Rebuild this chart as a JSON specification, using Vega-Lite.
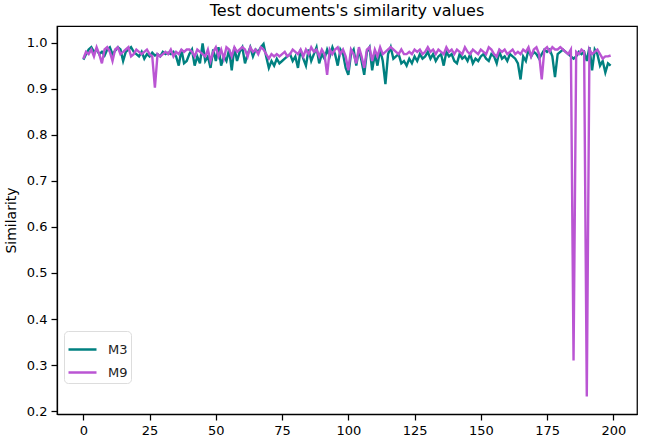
{
  "$schema": "https://vega.github.io/schema/vega-lite/v6.json",
  "width": 580,
  "height": 388,
  "autosize": {"type": "none"},
  "padding": {"left": 57, "top": 26, "right": 12, "bottom": 32},
  "background": "white",
  "title": {"text": "Test documents's similarity values", "font": "DejaVu Sans", "fontSize": 16, "fontWeight": "normal", "color": "black", "offset": 7},
  "config": {
    "view": {"stroke": "black", "strokeWidth": 1.25},
    "axis": {"labelFont": "DejaVu Sans", "titleFont": "DejaVu Sans", "labelFontSize": 13, "titleFontSize": 14, "titleFontWeight": "normal", "labelColor": "black", "titleColor": "black", "domainColor": "black", "tickColor": "black", "tickSize": 6, "tickWidth": 1.25, "domainWidth": 1.25, "grid": false, "labelPadding": 4}
  },
  "data": {"values": [
{"i":0,"M3":0.963,"M9":0.965},{"i":1,"M3":0.975,"M9":0.98},{"i":2,"M3":0.985,"M9":0.975},{"i":3,"M3":0.99,"M9":0.985},{"i":4,"M3":0.98,"M9":0.97},{"i":5,"M3":0.985,"M9":0.99},{"i":6,"M3":0.975,"M9":0.975},{"i":7,"M3":0.98,"M9":0.955},{"i":8,"M3":0.972,"M9":0.985},{"i":9,"M3":0.985,"M9":0.99},
{"i":10,"M3":0.99,"M9":0.98},{"i":11,"M3":0.975,"M9":0.96},{"i":12,"M3":0.982,"M9":0.985},{"i":13,"M3":0.99,"M9":0.99},{"i":14,"M3":0.985,"M9":0.975},{"i":15,"M3":0.96,"M9":0.98},{"i":16,"M3":0.98,"M9":0.985},{"i":17,"M3":0.985,"M9":0.99},{"i":18,"M3":0.99,"M9":0.97},{"i":19,"M3":0.98,"M9":0.975},
{"i":20,"M3":0.975,"M9":0.985},{"i":21,"M3":0.97,"M9":0.98},{"i":22,"M3":0.98,"M9":0.975},{"i":23,"M3":0.965,"M9":0.98},{"i":24,"M3":0.975,"M9":0.985},{"i":25,"M3":0.97,"M9":0.975},{"i":26,"M3":0.978,"M9":0.97},{"i":27,"M3":0.972,"M9":0.902},{"i":28,"M3":0.975,"M9":0.975},{"i":29,"M3":0.97,"M9":0.97},
{"i":30,"M3":0.98,"M9":0.975},{"i":31,"M3":0.975,"M9":0.98},{"i":32,"M3":0.978,"M9":0.975},{"i":33,"M3":0.975,"M9":0.985},{"i":34,"M3":0.98,"M9":0.97},{"i":35,"M3":0.97,"M9":0.98},{"i":36,"M3":0.95,"M9":0.975},{"i":37,"M3":0.985,"M9":0.985},{"i":38,"M3":0.955,"M9":0.98},{"i":39,"M3":0.96,"M9":0.985},
{"i":40,"M3":0.975,"M9":0.985},{"i":41,"M3":0.985,"M9":0.98},{"i":42,"M3":0.95,"M9":0.97},{"i":43,"M3":0.97,"M9":0.985},{"i":44,"M3":0.955,"M9":0.98},{"i":45,"M3":0.998,"M9":0.975},{"i":46,"M3":0.96,"M9":0.97},{"i":47,"M3":0.97,"M9":0.985},{"i":48,"M3":0.945,"M9":0.96},{"i":49,"M3":0.985,"M9":0.98},
{"i":50,"M3":0.96,"M9":0.99},{"i":51,"M3":0.99,"M9":0.97},{"i":52,"M3":0.95,"M9":0.985},{"i":53,"M3":0.97,"M9":0.965},{"i":54,"M3":0.96,"M9":0.99},{"i":55,"M3":0.985,"M9":0.985},{"i":56,"M3":0.94,"M9":0.97},{"i":57,"M3":0.99,"M9":0.99},{"i":58,"M3":0.96,"M9":0.98},{"i":59,"M3":0.98,"M9":0.985},
{"i":60,"M3":0.99,"M9":0.99},{"i":61,"M3":0.955,"M9":0.985},{"i":62,"M3":0.975,"M9":0.97},{"i":63,"M3":0.99,"M9":0.99},{"i":64,"M3":0.97,"M9":0.98},{"i":65,"M3":0.985,"M9":0.985},{"i":66,"M3":0.98,"M9":0.975},{"i":67,"M3":0.99,"M9":0.99},{"i":68,"M3":0.997,"M9":0.985},{"i":69,"M3":0.97,"M9":0.975},
{"i":70,"M3":0.945,"M9":0.965},{"i":71,"M3":0.96,"M9":0.975},{"i":72,"M3":0.95,"M9":0.97},{"i":73,"M3":0.965,"M9":0.975},{"i":74,"M3":0.955,"M9":0.97},{"i":75,"M3":0.96,"M9":0.975},{"i":76,"M3":0.965,"M9":0.98},{"i":77,"M3":0.97,"M9":0.97},{"i":78,"M3":0.975,"M9":0.975},{"i":79,"M3":0.96,"M9":0.985},
{"i":80,"M3":0.97,"M9":0.98},{"i":81,"M3":0.945,"M9":0.975},{"i":82,"M3":0.985,"M9":0.985},{"i":83,"M3":0.965,"M9":0.97},{"i":84,"M3":0.95,"M9":0.985},{"i":85,"M3":0.985,"M9":0.975},{"i":86,"M3":0.96,"M9":0.99},{"i":87,"M3":0.975,"M9":0.98},{"i":88,"M3":0.99,"M9":0.985},{"i":89,"M3":0.955,"M9":0.97},
{"i":90,"M3":0.975,"M9":0.985},{"i":91,"M3":0.965,"M9":0.975},{"i":92,"M3":0.985,"M9":0.93},{"i":93,"M3":0.97,"M9":0.985},{"i":94,"M3":0.99,"M9":0.975},{"i":95,"M3":0.975,"M9":0.985},{"i":96,"M3":0.95,"M9":0.99},{"i":97,"M3":0.985,"M9":0.975},{"i":98,"M3":0.975,"M9":0.985},{"i":99,"M3":0.945,"M9":0.97},
{"i":100,"M3":0.93,"M9":0.94},{"i":101,"M3":0.975,"M9":0.985},{"i":102,"M3":0.985,"M9":0.975},{"i":103,"M3":0.95,"M9":0.955},{"i":104,"M3":0.985,"M9":0.99},{"i":105,"M3":0.96,"M9":0.97},{"i":106,"M3":0.93,"M9":0.945},{"i":107,"M3":0.98,"M9":0.985},{"i":108,"M3":0.99,"M9":0.99},{"i":109,"M3":0.94,"M9":0.96},
{"i":110,"M3":0.975,"M9":0.985},{"i":111,"M3":0.95,"M9":0.97},{"i":112,"M3":0.985,"M9":0.99},{"i":113,"M3":0.96,"M9":0.975},{"i":114,"M3":0.91,"M9":0.98},{"i":115,"M3":0.975,"M9":0.985},{"i":116,"M3":0.99,"M9":0.99},{"i":117,"M3":0.965,"M9":0.985},{"i":118,"M3":0.97,"M9":0.98},{"i":119,"M3":0.975,"M9":0.975},
{"i":120,"M3":0.955,"M9":0.985},{"i":121,"M3":0.96,"M9":0.975},{"i":122,"M3":0.95,"M9":0.975},{"i":123,"M3":0.965,"M9":0.98},{"i":124,"M3":0.955,"M9":0.975},{"i":125,"M3":0.97,"M9":0.985},{"i":126,"M3":0.96,"M9":0.98},{"i":127,"M3":0.975,"M9":0.985},{"i":128,"M3":0.965,"M9":0.975},{"i":129,"M3":0.97,"M9":0.98},
{"i":130,"M3":0.98,"M9":0.99},{"i":131,"M3":0.965,"M9":0.98},{"i":132,"M3":0.975,"M9":0.985},{"i":133,"M3":0.96,"M9":0.975},{"i":134,"M3":0.97,"M9":0.985},{"i":135,"M3":0.975,"M9":0.98},{"i":136,"M3":0.95,"M9":0.975},{"i":137,"M3":0.98,"M9":0.99},{"i":138,"M3":0.97,"M9":0.98},{"i":139,"M3":0.975,"M9":0.985},
{"i":140,"M3":0.96,"M9":0.975},{"i":141,"M3":0.955,"M9":0.985},{"i":142,"M3":0.975,"M9":0.98},{"i":143,"M3":0.965,"M9":0.975},{"i":144,"M3":0.97,"M9":0.99},{"i":145,"M3":0.96,"M9":0.98},{"i":146,"M3":0.975,"M9":0.975},{"i":147,"M3":0.955,"M9":0.985},{"i":148,"M3":0.965,"M9":0.98},{"i":149,"M3":0.96,"M9":0.975},
{"i":150,"M3":0.97,"M9":0.985},{"i":151,"M3":0.975,"M9":0.98},{"i":152,"M3":0.965,"M9":0.975},{"i":153,"M3":0.96,"M9":0.99},{"i":154,"M3":0.975,"M9":0.985},{"i":155,"M3":0.97,"M9":0.975},{"i":156,"M3":0.955,"M9":0.97},{"i":157,"M3":0.98,"M9":0.985},{"i":158,"M3":0.965,"M9":0.98},{"i":159,"M3":0.97,"M9":0.985},
{"i":160,"M3":0.96,"M9":0.975},{"i":161,"M3":0.975,"M9":0.98},{"i":162,"M3":0.97,"M9":0.985},{"i":163,"M3":0.965,"M9":0.975},{"i":164,"M3":0.955,"M9":0.98},{"i":165,"M3":0.92,"M9":0.975},{"i":166,"M3":0.97,"M9":0.985},{"i":167,"M3":0.96,"M9":0.98},{"i":168,"M3":0.985,"M9":0.99},{"i":169,"M3":0.97,"M9":0.97},
{"i":170,"M3":0.98,"M9":0.985},{"i":171,"M3":0.975,"M9":0.99},{"i":172,"M3":0.965,"M9":0.975},{"i":173,"M3":0.975,"M9":0.92},{"i":174,"M3":0.985,"M9":0.985},{"i":175,"M3":0.98,"M9":0.99},{"i":176,"M3":0.985,"M9":0.98},{"i":177,"M3":0.97,"M9":0.99},{"i":178,"M3":0.925,"M9":0.985},{"i":179,"M3":0.975,"M9":0.985},
{"i":180,"M3":0.98,"M9":0.99},{"i":181,"M3":0.985,"M9":0.985},{"i":182,"M3":0.98,"M9":0.98},{"i":183,"M3":0.975,"M9":0.975},{"i":184,"M3":0.97,"M9":0.985},{"i":185,"M3":0.965,"M9":0.31},{"i":186,"M3":0.97,"M9":0.98},{"i":187,"M3":0.98,"M9":0.975},{"i":188,"M3":0.975,"M9":0.985},{"i":189,"M3":0.98,"M9":0.98},
{"i":190,"M3":0.96,"M9":0.232},{"i":191,"M3":0.99,"M9":0.985},{"i":192,"M3":0.94,"M9":0.975},{"i":193,"M3":0.985,"M9":0.98},{"i":194,"M3":0.975,"M9":0.985},{"i":195,"M3":0.95,"M9":0.975},{"i":196,"M3":0.96,"M9":0.965},{"i":197,"M3":0.935,"M9":0.97},{"i":198,"M3":0.955,"M9":0.97},{"i":199,"M3":0.95,"M9":0.972}
  ]},
  "transform": [{"fold": ["M3", "M9"], "as": ["series", "value"]}],
  "mark": {"type": "line", "strokeWidth": 2.4, "clip": true},
  "encoding": {
    "x": {"field": "i", "type": "quantitative", "scale": {"domain": [-9.95, 208.95], "nice": false, "zero": false},
      "axis": {"title": null, "values": [0, 25, 50, 75, 100, 125, 150, 175, 200], "labelFlush": false}},
    "y": {"field": "value", "type": "quantitative", "scale": {"domain": [0.194, 1.036], "nice": false, "zero": false},
      "axis": {"title": "Similarity", "values": [0.2, 0.3, 0.4, 0.5, 0.6, 0.7, 0.8, 0.9, 1.0], "format": ".1f", "labelFlush": false, "titlePadding": 8}},
    "color": {"field": "series", "type": "nominal",
      "scale": {"domain": ["M3", "M9"], "range": ["#008080", "#BA55D3"]},
      "legend": {"title": null, "orient": "none", "legendX": 7, "legendY": 305, "symbolType": "stroke", "symbolSize": 784, "symbolStrokeWidth": 2.5, "labelFont": "DejaVu Sans", "labelFontSize": 13, "labelColor": "#222222", "rowPadding": 0, "padding": 3, "strokeColor": "#dddddd", "fillColor": "rgba(255,255,255,0.8)", "cornerRadius": 4, "labelOffset": 10}}
  }
}
